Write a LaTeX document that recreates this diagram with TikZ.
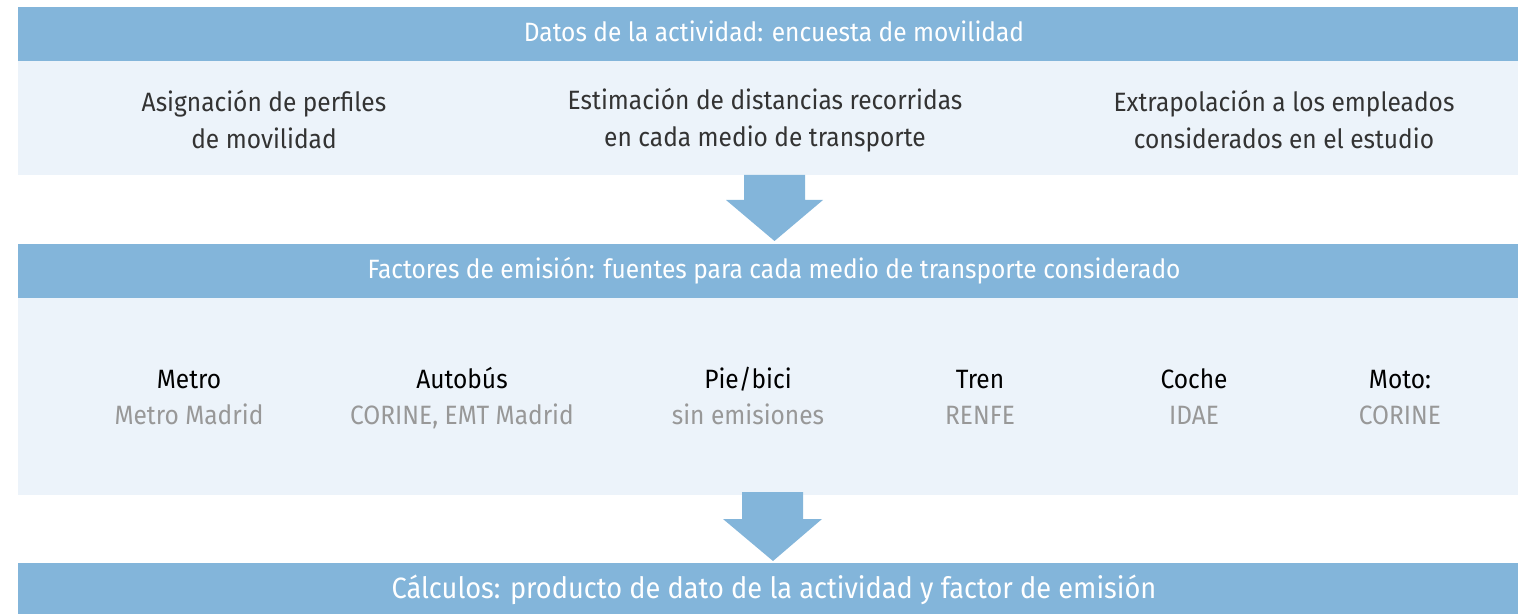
\documentclass[tikz,border=0pt]{standalone}
\usepackage{fontspec}
\setmainfont{Fira Sans}[FakeStretch=0.925]
\definecolor{hdr}{HTML}{83B5DA}
\definecolor{lite}{HTML}{ECF3FA}
\definecolor{bodytxt}{HTML}{333333}
\definecolor{srctxt}{HTML}{989898}
\tikzset{
  band/.style={fill=hdr, draw=none, inner sep=0pt, anchor=north west, minimum width=750pt},
  panel/.style={fill=lite, draw=none, inner sep=0pt, anchor=north west, minimum width=750pt},
  hdrtxt/.style={text=white, anchor=base, inner sep=0pt, font=\fontsize{13.25}{15}\selectfont},
  bodynode/.style={text=bodytxt, align=center, inner sep=0pt, font=\fontsize{13.25}{18.5}\selectfont},
  ttl/.style={text=black, anchor=base, inner sep=0pt, font=\fontsize{13.25}{15}\selectfont},
  src/.style={text=srctxt, anchor=base, inner sep=0pt, font=\fontsize{13.25}{15}\selectfont},
  blockarrow/.style={fill=hdr, draw=none}
}
\begin{document}
\begin{tikzpicture}[x=0.5pt,y=-0.5pt]
\useasboundingbox (0,0) rectangle (1518,614);
% boxes
\node[band, minimum height=27pt] (h1) at (18,7) {};
\node[panel, minimum height=57pt] (p1) at (18,61) {};
\node[band, minimum height=27pt] (h2) at (18,244) {};
\node[panel, minimum height=98.5pt] (p2) at (18,298) {};
\node[band, minimum height=26pt] (h3) at (18,563) {};
% arrows
\path[blockarrow] (744,175) -- (805,175) -- (805,200) -- (823,200) -- (774.5,241) -- (726,200) -- (744,200) -- cycle;
\path[blockarrow] (742,492) -- (803,492) -- (803,519) -- (822,519) -- (773,561) -- (723,519) -- (742,519) -- cycle;
% header texts
\node[hdrtxt] (t1) at (774,42) {Datos de la actividad: encuesta de movilidad};
\node[hdrtxt] (t2) at (774,279) {Factores de emisión: fuentes para cada medio de transporte considerado};
\node[hdrtxt, font=\fontsize{14.7}{16}\selectfont] (t3) at (774,598) {Cálculos: producto de dato de la actividad y factor de emisión};
% panel 1
\node[bodynode] (a1) at (264,120) {Asignación de perfiles\\de movilidad};
\node[bodynode] (a2) at (765,120) {Estimación de distancias recorridas\\en cada medio de transporte};
\node[bodynode] (a3) at (1284,120) {Extrapolación a los empleados\\considerados en el estudio};
% panel 2
\node[ttl] (m1) at (189,388) {Metro};
\node[src] (s1) at (189,424) {Metro Madrid};
\node[ttl] (m2) at (462,388) {Autobús};
\node[src] (s2) at (462,424) {CORINE, EMT Madrid};
\node[ttl] (m3) at (748,388) {Pie/bici};
\node[src] (s3) at (748,424) {sin emisiones};
\node[ttl] (m4) at (980,388) {Tren};
\node[src] (s4) at (980,424) {RENFE};
\node[ttl] (m5) at (1194,388) {Coche};
\node[src] (s5) at (1194,424) {IDAE};
\node[ttl] (m6) at (1400,388) {Moto:};
\node[src] (s6) at (1400,424) {CORINE};
\end{tikzpicture}
\end{document}
